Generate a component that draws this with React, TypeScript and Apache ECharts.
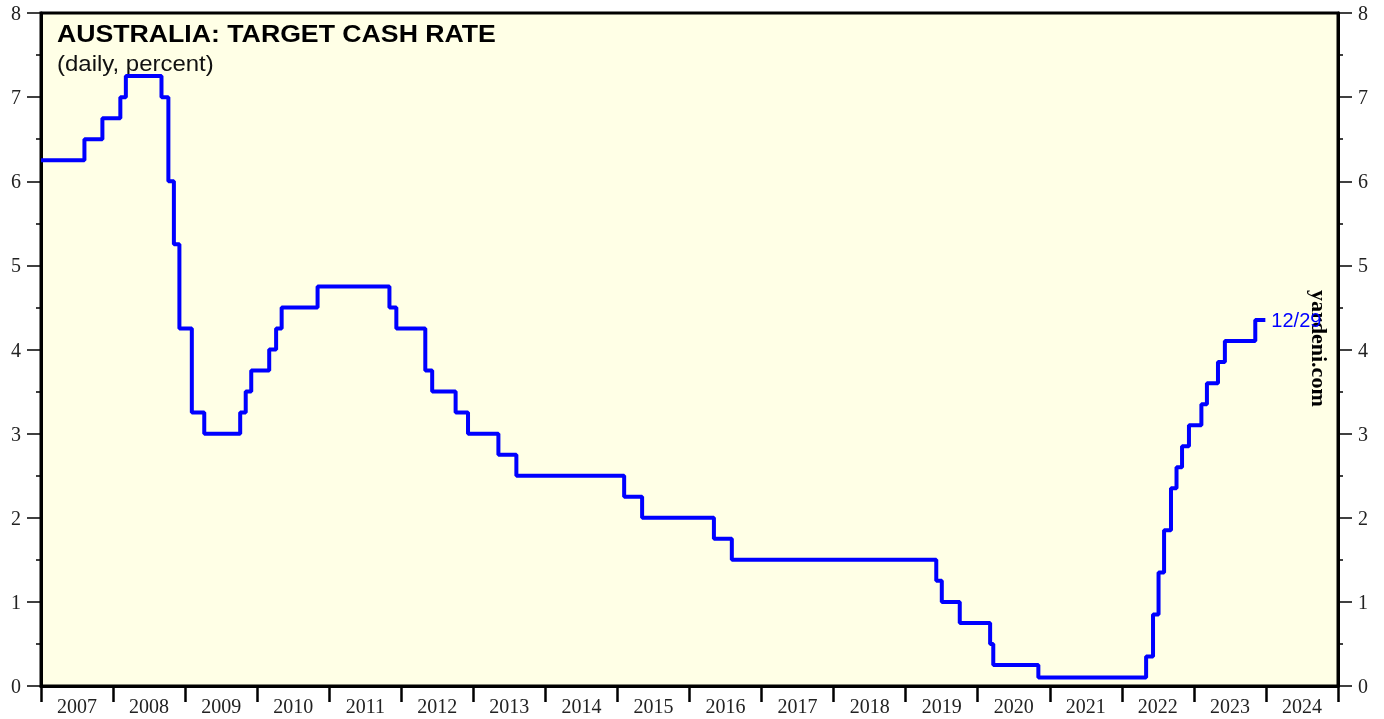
import React, { useEffect, useRef } from "react";
import * as echarts from "echarts";

const yearLabels = ["2007","2008","2009","2010","2011","2012","2013","2014","2015","2016","2017","2018","2019","2020","2021","2022","2023","2024"];

const changeDates = [
  "2007-01-01","2007-08-09","2007-11-08","2008-02-07","2008-03-06","2008-09-03","2008-10-08","2008-11-05","2008-12-03",
  "2009-02-04","2009-04-08","2009-10-07","2009-11-04","2009-12-02","2010-03-03","2010-04-07","2010-05-05","2010-11-03",
  "2011-11-02","2011-12-07","2012-05-02","2012-06-06","2012-10-03","2012-12-05","2013-05-08","2013-08-07",
  "2015-02-04","2015-05-06","2016-05-04","2016-08-03","2019-06-05","2019-07-03","2019-10-02","2020-03-04","2020-03-20",
  "2020-11-04","2022-05-04","2022-06-08","2022-07-06","2022-08-03","2022-09-07","2022-10-05","2022-11-02","2022-12-07",
  "2023-02-08","2023-03-08","2023-05-03","2023-06-07","2023-11-08","2023-12-29"
];

const cashRate = [
  6.25,6.5,6.75,7.0,7.25,7.0,6.0,5.25,4.25,
  3.25,3.0,3.25,3.5,3.75,4.0,4.25,4.5,4.75,
  4.5,4.25,3.75,3.5,3.25,3.0,2.75,2.5,
  2.25,2.0,1.75,1.5,1.25,1.0,0.75,0.5,0.25,
  0.1,0.35,0.85,1.35,1.85,2.35,2.6,2.85,3.1,
  3.35,3.6,3.85,4.1,4.35,4.35
];

const lastLabel = "12/29";

function toYear(d: string): number {
  const dt = Date.UTC(+d.slice(0, 4), +d.slice(5, 7) - 1, +d.slice(8, 10));
  const y = +d.slice(0, 4);
  const s = Date.UTC(y, 0, 1);
  const e = Date.UTC(y + 1, 0, 1);
  return y + (dt - s) / (e - s);
}

const serif = "'Liberation Serif', 'Times New Roman', serif";
const sans = "'Liberation Sans', Arial, sans-serif";

export default function App() {
  const ref = useRef<HTMLDivElement>(null);
  useEffect(() => {
    if (!ref.current) return;
    const chart = echarts.init(ref.current, null, { renderer: "svg" });
    const data = changeDates.map((d, i) => [toYear(d), cashRate[i]]);
    const yAxisCommon = {
      type: "value",
      min: 0,
      max: 8,
      interval: 1,
      axisLine: { show: true, lineStyle: { color: "#000", width: 3 } },
      axisTick: { show: true, inside: false, length: 14, lineStyle: { color: "#000", width: 1.5 } },
      minorTick: { show: true, splitNumber: 2, length: 5, lineStyle: { color: "#000", width: 1.5 } },
      axisLabel: { color: "#222", fontFamily: serif, fontSize: 20, margin: 20 },
      splitLine: { show: false },
    };
    chart.setOption({
      animation: false,
      grid: {
        left: 41,
        right: 46,
        top: 13,
        bottom: 33,
        show: true,
        backgroundColor: "#FFFFE6",
        borderColor: "#000",
        borderWidth: 3,
      },
      xAxis: [
        {
          type: "value",
          min: 2007,
          max: 2025,
          interval: 1,
          position: "bottom",
          axisLine: { show: true, onZero: false, lineStyle: { color: "#000", width: 3 } },
          axisTick: { show: true, inside: false, length: 16, lineStyle: { color: "#000", width: 2.5 } },
          axisLabel: { show: false },
          splitLine: { show: false },
        },
        {
          type: "category",
          data: yearLabels,
          position: "bottom",
          boundaryGap: true,
          axisLine: { show: false },
          axisTick: { show: false },
          axisLabel: { color: "#222", fontFamily: serif, fontSize: 20, margin: 10, interval: 0 },
          splitLine: { show: false },
        },
      ],
      yAxis: [
        { ...yAxisCommon, position: "left" },
        { ...yAxisCommon, position: "right" },
      ],
      series: [
        {
          type: "line",
          xAxisIndex: 0,
          yAxisIndex: 0,
          step: "end",
          data,
          showSymbol: false,
          symbol: "none",
          lineStyle: { color: "#0000FF", width: 4 },
          endLabel: {
            show: true,
            formatter: lastLabel,
            color: "#0000FF",
            fontFamily: sans,
            fontSize: 20,
            distance: 6,
          },
        },
      ],
      graphic: [
        {
          type: "text",
          x: 57,
          y: 22,
          scaleX: 1.16,
          style: { text: "AUSTRALIA: TARGET CASH RATE", font: `bold 23px ${sans}`, fill: "#000", textVerticalAlign: "top" },
        },
        {
          type: "text",
          x: 57,
          y: 52,
          scaleX: 1.09,
          style: { text: "(daily, percent)", font: `22px ${sans}`, fill: "#111", textVerticalAlign: "top" },
        },
        {
          type: "text",
          x: 1308,
          y: 290,
          rotation: -Math.PI / 2,
          style: { text: "yardeni.com", font: `bold 22px ${serif}`, fill: "#000", textVerticalAlign: "bottom" },
        },
      ],
    });
    return () => chart.dispose();
  }, []);
  return <div ref={ref} style={{ position: "fixed", left: 0, top: 0, width: 1384, height: 719 }} />;
}
